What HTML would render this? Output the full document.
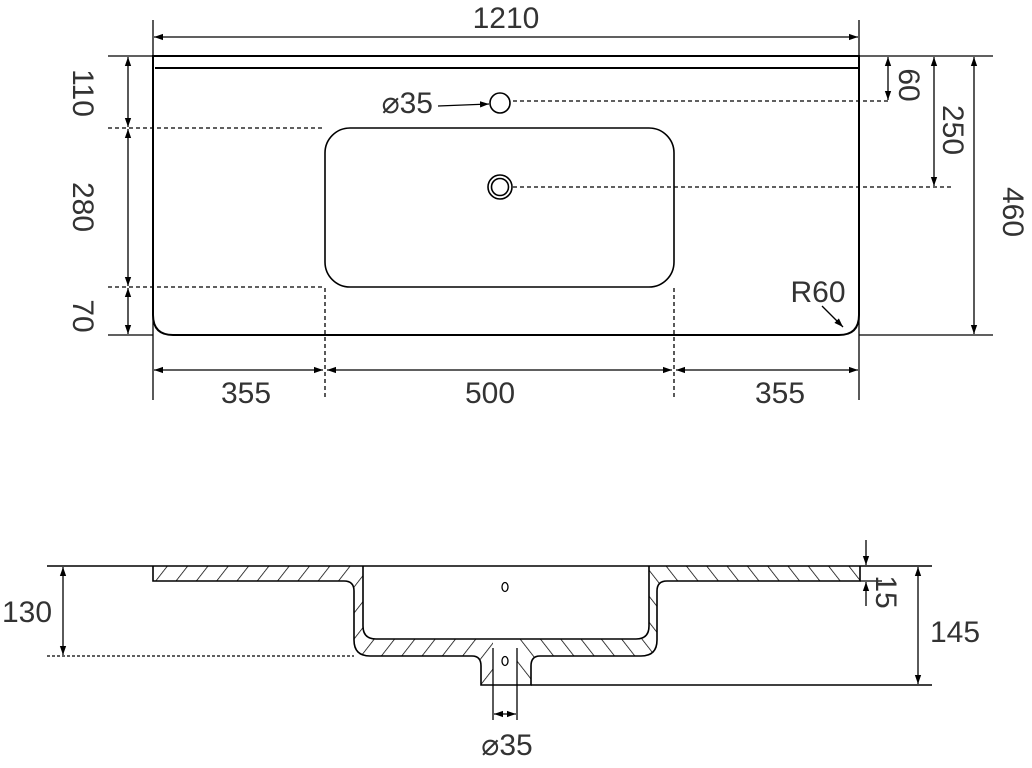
<!DOCTYPE html>
<html><head><meta charset="utf-8"><style>
html,body{margin:0;padding:0;background:#fff}
svg{display:block}
text{font-family:"Liberation Sans",sans-serif;font-size:30px;fill:#333}
</style></head><body>
<svg width="1032" height="768" viewBox="0 0 1032 768" xmlns="http://www.w3.org/2000/svg">
<defs>
<marker id="a" viewBox="0 0 10 10" refX="10" refY="5" markerWidth="9" markerHeight="9" orient="auto-start-reverse" markerUnits="userSpaceOnUse"><path d="M0,1.5 L10,5 L0,8.5 Z" fill="#000"/></marker>
<pattern id="hl" width="16" height="16" patternUnits="userSpaceOnUse" patternTransform="rotate(38)"><line x1="0" y1="0" x2="0" y2="16" stroke="#000" stroke-width="1.5"/></pattern>
<pattern id="hr" width="16" height="16" patternUnits="userSpaceOnUse" patternTransform="rotate(-38)"><line x1="0" y1="0" x2="0" y2="16" stroke="#000" stroke-width="1.5"/></pattern>
<clipPath id="cl"><rect x="0" y="540" width="505" height="200"/></clipPath>
<clipPath id="cr"><rect x="505" y="540" width="527" height="200"/></clipPath>
</defs>
<g stroke="#000" fill="none" stroke-width="1.3">
<path d="M153,56 L859,56 L859,315 Q859,335 839,335 L173,335 Q153,335 153,315 Z" stroke-width="2"/>
<line x1="155" y1="68" x2="858" y2="68" stroke-width="2"/>
<rect x="325" y="128" width="349" height="159" rx="25" stroke-width="1.6"/>
<circle cx="500" cy="103" r="10" stroke-width="1.6"/>
<circle cx="500" cy="187" r="12" stroke-width="1.6"/>
<circle cx="500" cy="187" r="8.5" stroke-width="1.6"/>
<line x1="438" y1="106" x2="489" y2="104" marker-end="url(#a)"/>
<line x1="153" y1="20" x2="153" y2="400"/>
<line x1="859" y1="20" x2="859" y2="400"/>
<line x1="154" y1="37" x2="858" y2="37" marker-start="url(#a)" marker-end="url(#a)"/>
<line x1="859" y1="56" x2="993" y2="56"/>
<line x1="859" y1="335" x2="993" y2="335"/>
<line x1="513" y1="101" x2="888" y2="101" stroke-dasharray="4,3"/>
<line x1="513" y1="187" x2="951" y2="187" stroke-dasharray="4,3"/>
<line x1="888" y1="57" x2="888" y2="100" marker-start="url(#a)" marker-end="url(#a)"/>
<line x1="934" y1="57" x2="934" y2="186" marker-start="url(#a)" marker-end="url(#a)"/>
<line x1="974" y1="57" x2="974" y2="334" marker-start="url(#a)" marker-end="url(#a)"/>
<line x1="822" y1="306" x2="843" y2="327" marker-end="url(#a)"/>
<line x1="108" y1="56" x2="153" y2="56"/>
<line x1="108" y1="335" x2="153" y2="335"/>
<line x1="108" y1="128" x2="325" y2="128" stroke-dasharray="4,3"/>
<line x1="108" y1="287" x2="325" y2="287" stroke-dasharray="4,3"/>
<line x1="128" y1="57" x2="128" y2="127" marker-start="url(#a)" marker-end="url(#a)"/>
<line x1="128" y1="129" x2="128" y2="286" marker-start="url(#a)" marker-end="url(#a)"/>
<line x1="128" y1="288" x2="128" y2="334" marker-start="url(#a)" marker-end="url(#a)"/>
<line x1="325" y1="288" x2="325" y2="400" stroke-dasharray="4,3"/>
<line x1="674" y1="288" x2="674" y2="400" stroke-dasharray="4,3"/>
<line x1="154" y1="370" x2="323" y2="370" marker-start="url(#a)" marker-end="url(#a)"/>
<line x1="327" y1="370" x2="672" y2="370" marker-start="url(#a)" marker-end="url(#a)"/>
<line x1="676" y1="370" x2="858" y2="370" marker-start="url(#a)" marker-end="url(#a)"/>

<g clip-path="url(#cl)"><path fill-rule="evenodd" fill="url(#hl)" stroke="none" d="M153,566 L860,566 L860,581 L667,581 Q657,581 657,591 L657,640 Q657,656 641,656 L540,656 Q531,656 531,666 L531,685 L481,685 L481,666 Q481,656 472,656 L370,656 Q354,656 354,640 L354,591 Q354,581 344,581 L153,581 Z M363,566 L649,566 L649,626 Q649,639 636,639 L376,639 Q363,639 363,626 Z M493,639 L517,639 L517,685 L493,685 Z"/></g>
<g clip-path="url(#cr)"><path fill-rule="evenodd" fill="url(#hr)" stroke="none" d="M153,566 L860,566 L860,581 L667,581 Q657,581 657,591 L657,640 Q657,656 641,656 L540,656 Q531,656 531,666 L531,685 L481,685 L481,666 Q481,656 472,656 L370,656 Q354,656 354,640 L354,591 Q354,581 344,581 L153,581 Z M363,566 L649,566 L649,626 Q649,639 636,639 L376,639 Q363,639 363,626 Z M493,639 L517,639 L517,685 L493,685 Z"/></g>
<path stroke-width="1.6" d="M153,566 L153,581 L344,581 Q354,581 354,591 L354,640 Q354,656 370,656 L472,656 Q481,656 481,666 L481,685 L531,685 L531,666 Q531,656 540,656 L641,656 Q657,656 657,640 L657,591 Q657,581 667,581 L860,581 L860,566"/>
<path stroke-width="1.6" d="M363,566 L363,626 Q363,639 376,639 L636,639 Q649,639 649,626 L649,566"/>
<line x1="47" y1="566" x2="932" y2="566" stroke-width="1.6"/>
<line x1="531" y1="685" x2="932" y2="685" stroke-width="1.6"/>
<line x1="493" y1="648" x2="493" y2="720"/>
<line x1="517" y1="648" x2="517" y2="720"/>
<line x1="494" y1="714" x2="516" y2="714" marker-start="url(#a)" marker-end="url(#a)"/>
<ellipse cx="505" cy="587" rx="3" ry="4.5"/>
<ellipse cx="505" cy="661" rx="3" ry="4.5"/>
<line x1="47" y1="656" x2="354" y2="656" stroke-dasharray="3,2"/>
<line x1="63" y1="567" x2="63" y2="655" marker-start="url(#a)" marker-end="url(#a)"/>
<line x1="918" y1="567" x2="918" y2="684" marker-start="url(#a)" marker-end="url(#a)"/>
<line x1="860" y1="581" x2="882" y2="581"/>
<line x1="866" y1="540" x2="866" y2="565" marker-end="url(#a)"/>
<line x1="866" y1="606" x2="866" y2="582" marker-end="url(#a)"/>
</g>
<text x="506" y="28" text-anchor="middle">1210</text>
<text x="433" y="113" text-anchor="end">⌀35</text>
<text x="818" y="302" text-anchor="middle">R60</text>
<text x="246" y="403" text-anchor="middle">355</text>
<text x="490" y="403" text-anchor="middle">500</text>
<text x="780" y="403" text-anchor="middle">355</text>
<text transform="translate(899,85) rotate(90)" text-anchor="middle">60</text>
<text transform="translate(943,130) rotate(90)" text-anchor="middle">250</text>
<text transform="translate(1003,212) rotate(90)" text-anchor="middle">460</text>
<text transform="translate(73,93) rotate(90)" text-anchor="middle">110</text>
<text transform="translate(73,207) rotate(90)" text-anchor="middle">280</text>
<text transform="translate(73,316) rotate(90)" text-anchor="middle">70</text>
<text x="27" y="622" text-anchor="middle">130</text>
<text x="955" y="642" text-anchor="middle">145</text>
<text transform="translate(876,592) rotate(90)" text-anchor="middle">15</text>
<text x="507" y="755" text-anchor="middle">⌀35</text>
</svg>
</body></html>
